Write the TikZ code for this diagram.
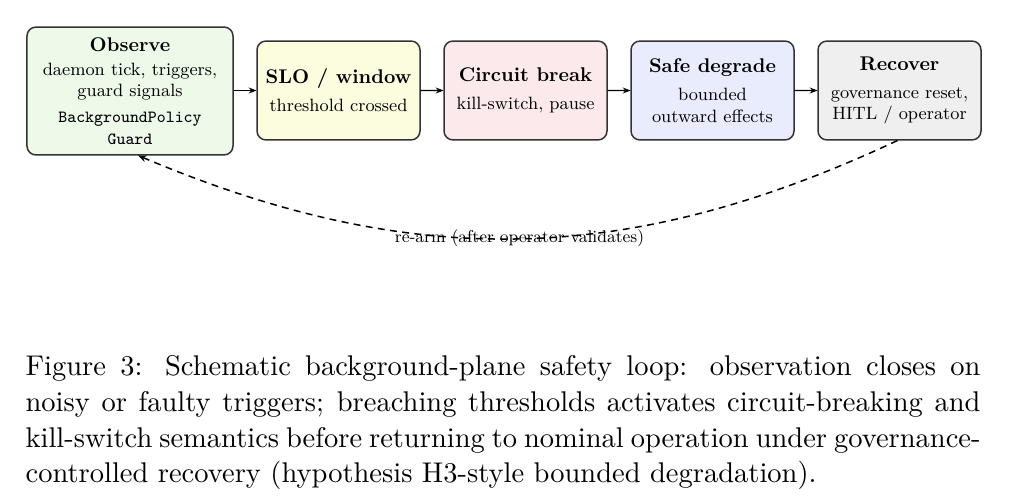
\documentclass[tikz,border=0pt]{standalone}
\usepackage{tikz}
\usetikzlibrary{arrows.meta,calc}
\definecolor{cobs}{RGB}{237,250,234}
\definecolor{cslo}{RGB}{252,252,222}
\definecolor{ccb}{RGB}{252,233,235}
\definecolor{csd}{RGB}{233,236,252}
\definecolor{crec}{RGB}{239,239,239}
\newcommand{\ttline}[1]{{\fontsize{8.6}{10}\selectfont\ttfamily #1}}
\tikzset{
  stagebox/.style={draw=black!80, line width=0.5pt, rounded corners=3pt, align=center,
    inner sep=0pt, minimum width=82.2pt, minimum height=49.9pt, font=\small},
  flowarrow/.style={line width=0.45pt, -{Stealth[length=2.6pt,width=2pt]}},
  loopback/.style={line width=0.5pt, dash pattern=on 2.3pt off 1.8pt, -{Stealth[length=2.8pt,width=2.2pt]}},
}
\begin{document}
\begin{tikzpicture}[x=0.33333pt,y=-0.33333pt]
\useasboundingbox (0,0) rectangle (1016,500);
\begin{scope}[scale=0.661, transform shape, x=0.50429pt, y=-0.50429pt]
  \node[stagebox, fill=cobs, minimum width=103.9pt, minimum height=64.5pt] (obs) at (130,91)
    {\textbf{\normalsize Observe}\\[1pt] daemon tick, triggers,\\ guard signals\\[2pt]
     \ttline{BackgroundPolicy}\\ \ttline{Guard}};
  \node[stagebox, fill=cslo] (slo) at (338.5,90.5)
    {\textbf{\normalsize SLO / window}\\[3pt] threshold crossed};
  \node[stagebox, fill=ccb] (cb) at (525.5,90.5)
    {\textbf{\normalsize Circuit break}\\[3pt] kill-switch, pause};
  \node[stagebox, fill=csd] (sd) at (712.5,90.5)
    {\textbf{\normalsize Safe degrade}\\[3pt] bounded\\ outward effects};
  \node[stagebox, fill=crec] (rec) at (899.5,90.5)
    {\textbf{\normalsize Recover}\\[3pt] governance reset,\\ HITL / operator};
  \draw[flowarrow] (obs.east |- slo.west) -- (slo.west);
  \draw[flowarrow] (slo) -- (cb);
  \draw[flowarrow] (cb) -- (sd);
  \draw[flowarrow] (sd) -- (rec);
  \coordinate (loopend) at ($(obs.south)+(8,0)$);
  \draw[loopback] ($(rec.south)+(-2,0)$) to[bend left=24]
    node[midway, font=\fontsize{8.6}{10}\selectfont] (lbl) {re-arm (after operator validates)} (loopend);
\end{scope}
\node[anchor=north west, inner sep=0pt, text width=318.33pt, align=justify,
      font=\fontsize{9.5}{11.9}\selectfont] (cap) at (25,355)
  {Figure 3: Schematic background-plane safety loop: observation closes on\linebreak
   noisy or faulty triggers; breaching thresholds activates circuit-breaking and\linebreak
   kill-switch semantics before returning to nominal operation under governance-\linebreak
   controlled recovery (hypothesis H3-style bounded degradation).};
\end{tikzpicture}
\end{document}
